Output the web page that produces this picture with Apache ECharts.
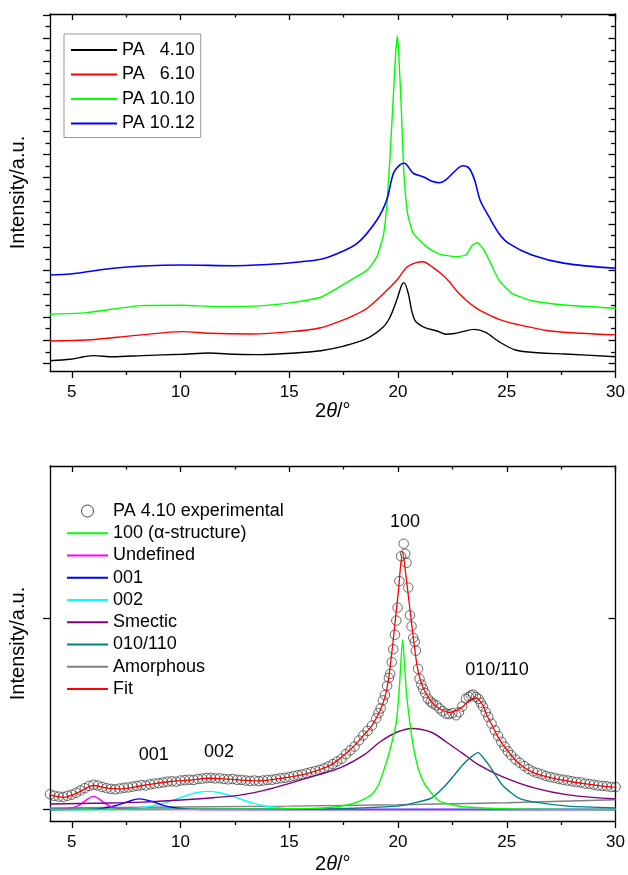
<!DOCTYPE html>
<html><head><meta charset="utf-8">
<script src="https://cdn.jsdelivr.net/npm/echarts@6.0.0/dist/echarts.min.js"></script>
<style>html,body{margin:0;padding:0;background:#fff}#c{width:628px;height:875px}</style>
</head><body><div id="c"></div>
<script>
// ---------- DATA (top panel) ----------
const topNames = ['PA   4.10', 'PA   6.10', 'PA 10.10', 'PA 10.12'];
const pa410X = [4.0, 4.94, 5.55, 6.0, 6.9, 8.27, 10.1, 11.3, 12.5, 13.7, 15.1, 16.45, 17.5, 18.58, 19.33, 19.64, 19.94, 20.17, 20.27, 20.47, 20.62, 20.77, 21.0, 21.3, 21.8, 22.2, 22.6, 22.97, 23.5, 24.03, 24.64, 25.4, 26.45, 27.67, 30];
const pa410Y = [0.12, 0.18, 0.29, 0.34, 0.29, 0.34, 0.40, 0.45, 0.40, 0.38, 0.44, 0.55, 0.75, 1.08, 1.58, 2.01, 2.73, 3.38, 3.48, 3.02, 2.30, 1.87, 1.66, 1.52, 1.40, 1.26, 1.29, 1.37, 1.47, 1.34, 0.94, 0.58, 0.46, 0.41, 0.29];
const pa610X = [4, 5.7, 7.97, 10.1, 11.3, 13.27, 15.1, 16.45, 17.06, 17.8, 18.58, 19.5, 20.0, 20.4, 20.8, 21.15, 21.6, 22.0, 22.36, 22.7, 23.12, 23.5, 23.88, 24.64, 25.4, 26.9, 28.4, 30];
const pa610Y = [0.97, 1.01, 1.21, 1.37, 1.30, 1.27, 1.37, 1.54, 1.73, 2.0, 2.38, 3.16, 3.65, 4.14, 4.33, 4.38, 4.14, 3.85, 3.52, 3.12, 2.73, 2.45, 2.23, 1.90, 1.70, 1.41, 1.30, 1.23];
const pa1010X = [4, 5.7, 8.12, 10.1, 11.6, 13.6, 15.1, 16.45, 17.06, 17.82, 18.58, 19.03, 19.33, 19.5, 19.65, 19.8, 19.9, 19.98, 20.05, 20.15, 20.25, 20.35, 20.45, 20.7, 21.3, 21.9, 22.67, 23.12, 23.42, 23.65, 23.95, 24.26, 24.64, 25.24, 26.15, 27.67, 30];
const pa1010Y = [2.12, 2.19, 2.49, 2.51, 2.45, 2.48, 2.62, 2.85, 3.16, 3.59, 4.02, 4.60, 5.53, 7.0, 9.2, 11.8, 13.5, 14.1, 13.0, 11.0, 8.5, 7.2, 6.4, 5.6, 5.03, 4.71, 4.60, 4.67, 5.10, 5.20, 4.89, 4.31, 3.59, 3.02, 2.70, 2.52, 2.38];
const pa1012X = [4, 4.94, 6.9, 8.27, 10.1, 12.5, 14.3, 15.55, 16.45, 17.06, 18.12, 19.03, 19.48, 19.79, 20.09, 20.29, 20.7, 21.15, 21.6, 21.9, 22.2, 22.67, 22.97, 23.27, 23.52, 23.77, 24.18, 24.64, 25.09, 26.15, 27.67, 30];
const pa1012Y = [3.81, 3.85, 4.10, 4.20, 4.24, 4.21, 4.28, 4.38, 4.49, 4.67, 5.17, 6.18, 7.04, 8.19, 8.55, 8.62, 8.19, 8.04, 7.83, 7.78, 7.90, 8.33, 8.51, 8.40, 7.90, 7.04, 6.32, 5.60, 5.17, 4.67, 4.31, 4.10];

// ---------- DATA (bottom panel) ----------
const botNames = ['PA 4.10 experimental', '100 (\u03b1-structure)', 'Undefined', '001', '002', 'Smectic', '010/110', 'Amorphous', 'Fit'];
const expX = [4.0,4.2,4.4,4.6,4.8,5.0,5.2,5.4,5.6,5.8,6.0,6.2,6.4,6.6,6.8,7.0,7.2,7.4,7.6,7.8,8.0,8.2,8.4,8.6,8.8,9.0,9.2,9.4,9.6,9.8,10.0,10.2,10.4,10.6,10.8,11.0,11.2,11.4,11.6,11.8,12.0,12.2,12.4,12.6,12.8,13.0,13.2,13.4,13.6,13.8,14.0,14.2,14.4,14.6,14.8,15.0,15.2,15.4,15.6,15.8,16.0,16.2,16.4,16.6,16.8,17.0,17.2,17.4,17.6,17.8,18.0,18.2,18.4,18.6,18.8,19.0,19.1,19.2,19.3,19.4,19.5,19.58,19.64,19.71,19.78,19.86,19.92,19.98,20.06,20.14,20.26,20.33,20.39,20.47,20.55,20.62,20.7,20.77,20.82,20.92,20.99,21.07,21.15,21.25,21.37,21.5,21.6,21.76,21.9,22.05,22.2,22.35,22.5,22.67,22.8,22.95,23.12,23.25,23.35,23.45,23.58,23.7,23.8,23.9,24.03,24.15,24.3,24.45,24.6,24.75,24.9,25.05,25.2,25.4,25.6,25.8,26.0,26.2,26.4,26.6,26.8,27.0,27.2,27.4,27.6,27.8,28.0,28.2,28.4,28.6,28.8,29.0,29.2,29.4,29.6,29.8,30.0];
const expY = [0.080,0.072,0.068,0.066,0.072,0.078,0.088,0.100,0.112,0.124,0.130,0.126,0.118,0.112,0.108,0.106,0.110,0.114,0.116,0.120,0.124,0.128,0.126,0.132,0.136,0.138,0.142,0.146,0.148,0.146,0.152,0.154,0.156,0.155,0.160,0.162,0.165,0.166,0.163,0.164,0.160,0.158,0.160,0.156,0.155,0.152,0.150,0.152,0.149,0.152,0.155,0.156,0.160,0.164,0.166,0.170,0.176,0.180,0.184,0.190,0.196,0.202,0.208,0.216,0.226,0.238,0.252,0.266,0.290,0.310,0.330,0.362,0.388,0.412,0.440,0.478,0.505,0.530,0.572,0.600,0.648,0.690,0.711,0.772,0.840,0.916,0.990,1.058,1.197,1.327,1.393,1.340,1.293,1.163,1.018,0.960,0.900,0.879,0.832,0.737,0.685,0.655,0.633,0.610,0.581,0.565,0.555,0.546,0.530,0.515,0.503,0.500,0.505,0.494,0.510,0.540,0.581,0.590,0.598,0.602,0.590,0.580,0.560,0.540,0.511,0.485,0.450,0.415,0.385,0.355,0.330,0.305,0.285,0.262,0.245,0.228,0.212,0.200,0.192,0.184,0.176,0.170,0.166,0.160,0.156,0.152,0.148,0.144,0.142,0.136,0.134,0.130,0.126,0.124,0.122,0.118,0.118];
const fitX = [4.0,4.64,5.24,6.0,6.6,7.2,8.27,9.49,10.55,11.3,12.2,13.58,14.64,15.85,16.76,17.2,17.67,18.0,18.42,18.8,19.18,19.4,19.56,19.79,20.02,20.21,20.39,20.62,20.88,21.05,21.23,21.5,21.76,22.05,22.36,22.7,22.97,23.27,23.58,23.88,24.1,24.33,24.55,24.79,25.1,25.39,25.8,26.3,26.9,27.51,28.1,28.73,29.3,30.0];
const fitY = [0.077,0.064,0.086,0.126,0.112,0.108,0.126,0.147,0.155,0.164,0.159,0.150,0.164,0.190,0.225,0.255,0.300,0.335,0.390,0.440,0.520,0.590,0.680,0.900,1.150,1.350,1.200,0.980,0.750,0.670,0.620,0.570,0.540,0.520,0.508,0.520,0.538,0.572,0.585,0.550,0.490,0.440,0.390,0.345,0.300,0.260,0.220,0.190,0.170,0.155,0.143,0.133,0.124,0.116];
const p100X = [4, 10, 14, 16, 17, 17.7, 18.27, 18.8, 19.1, 19.33, 19.6, 19.91, 20.05, 20.21, 20.38, 20.55, 20.72, 20.97, 21.3, 21.9, 22.5, 23, 24, 25, 26, 28, 30];
const p100Y = [0, 0.001, 0.003, 0.006, 0.012, 0.025, 0.045, 0.08, 0.13, 0.20, 0.30, 0.45, 0.62, 0.89, 0.62, 0.45, 0.32, 0.20, 0.12, 0.045, 0.025, 0.015, 0.008, 0.004, 0.002, 0.001, 0];
const undefX = [4, 4.8, 5.2, 5.5, 5.8, 6.0, 6.2, 6.5, 6.8, 7.2, 8, 30];
const undefY = [0, 0.004, 0.015, 0.035, 0.060, 0.069, 0.060, 0.035, 0.015, 0.004, 0, 0];
const p001X = [4, 6, 6.5, 7, 7.5, 8.1, 8.7, 9.2, 9.8, 10.4, 11, 30];
const p001Y = [0, 0.002, 0.008, 0.020, 0.038, 0.056, 0.042, 0.022, 0.008, 0.002, 0, 0];
const p002X = [4, 7.5, 8.5, 9.3, 10, 10.6, 11.2, 11.8, 12.5, 13.2, 14, 15, 16, 30];
const p002Y = [0, 0.003, 0.015, 0.035, 0.062, 0.085, 0.095, 0.088, 0.065, 0.038, 0.016, 0.005, 0.001, 0];
const smecX = [4, 6, 8.27, 10, 11.5, 12.8, 14, 15.1, 16.2, 17.36, 18.42, 19.18, 19.94, 20.65, 21.53, 22.2, 22.97, 23.73, 24.79, 26.3, 27.82, 30];
const smecY = [0.029, 0.033, 0.039, 0.050, 0.062, 0.077, 0.105, 0.140, 0.178, 0.220, 0.285, 0.355, 0.405, 0.425, 0.405, 0.355, 0.294, 0.233, 0.173, 0.112, 0.077, 0.056];
const p010X = [4, 16, 18, 19.94, 20.7, 21.53, 22.2, 22.97, 23.3, 23.68, 24.0, 24.18, 24.79, 25.55, 26.3, 27.82, 30];
const p010Y = [0, 0.003, 0.007, 0.018, 0.034, 0.060, 0.129, 0.233, 0.270, 0.298, 0.260, 0.233, 0.129, 0.060, 0.039, 0.018, 0.008];
const amorX = [4, 10, 15, 20, 25, 30];
const amorY = [0.008, 0.013, 0.018, 0.025, 0.036, 0.051];
const annText = ['100', '010/110', '001', '002'];
const annX = [20.32, 24.55, 8.77, 11.77];
const annY = [1.508, 0.732, 0.284, 0.299];

// ---------- tick labels ----------
const xMajor = [5, 10, 15, 20, 25, 30];
const xMinor = [7.5, 12.5, 17.5, 22.5, 27.5];
const yTopMajor = [0,1,2,3,4,5,6,7,8,9,10,11,12,13,14,15];
const yTopMinor = [0.5,1.5,2.5,3.5,4.5,5.5,6.5,7.5,8.5,9.5,10.5,11.5,12.5,13.5,14.5];
const yBotMajor = [0, 1];

// ---------- build ----------
const FF = 'Liberation Sans, Arial, Helvetica, sans-serif';
const AX = {color: '#000', width: 1.3};
const zip = (a, b) => a.map((v, i) => [v, b[i]]);

function xAxesFor(g, nameGap) {
  const base = {gridIndex: g, type: 'value', min: 4, max: 30, splitLine: {show: false}};
  return [
    Object.assign({}, base, {position: 'bottom', axisLine: {show: true, onZero: false, lineStyle: AX},
      axisTick: {show: true, customValues: xMajor, length: 7, inside: false, lineStyle: AX},
      axisLabel: {show: true, customValues: xMajor, fontSize: 17, fontFamily: FF, color: '#000', margin: 13},
      name: '{n|2}{i|\u03b8}{n|/\u00b0}', nameLocation: 'middle', nameGap: nameGap,
      nameTextStyle: {rich: {n: {fontSize: 20, fontFamily: FF, color: '#000'}, i: {fontSize: 20, fontFamily: FF, fontStyle: 'italic', color: '#000'}}}}),
    Object.assign({}, base, {position: 'bottom', axisLine: {show: false, onZero: false},
      axisTick: {show: true, customValues: xMinor, length: 4, inside: false, lineStyle: AX}, axisLabel: {show: false}}),
    Object.assign({}, base, {position: 'top', axisLine: {show: true, onZero: false, lineStyle: AX},
      axisTick: {show: true, customValues: xMajor, length: 6, inside: true, lineStyle: AX}, axisLabel: {show: false}}),
    Object.assign({}, base, {position: 'top', axisLine: {show: false, onZero: false},
      axisTick: {show: true, customValues: xMinor, length: 3.5, inside: true, lineStyle: AX}, axisLabel: {show: false}})
  ];
}
function yAxesFor(g, min, max, major, minor) {
  const base = {gridIndex: g, type: 'value', min: min, max: max, splitLine: {show: false}, axisLabel: {show: false}};
  const arr = [
    Object.assign({}, base, {position: 'left', axisLine: {show: true, onZero: false, lineStyle: AX},
      axisTick: {show: true, customValues: major, length: 7, inside: false, lineStyle: AX},
      name: 'Intensity/a.u.', nameLocation: 'middle', nameGap: 22,
      nameTextStyle: {fontSize: 20, fontFamily: FF, color: '#000'}}),
    Object.assign({}, base, {position: 'right', axisLine: {show: true, onZero: false, lineStyle: AX},
      axisTick: {show: true, customValues: major, length: 7, inside: true, lineStyle: AX}})
  ];
  if (minor) {
    arr.push(Object.assign({}, base, {position: 'left', axisLine: {show: false, onZero: false},
      axisTick: {show: true, customValues: minor, length: 4.5, inside: false, lineStyle: AX}}));
    arr.push(Object.assign({}, base, {position: 'right', axisLine: {show: false, onZero: false},
      axisTick: {show: true, customValues: minor, length: 4.5, inside: true, lineStyle: AX}}));
  }
  return arr;
}

const xAxis = xAxesFor(0, 30).concat(xAxesFor(1, 33));
const yAxis = yAxesFor(0, -0.323, 15.045, yTopMajor, yTopMinor).concat(yAxesFor(1, -0.06, 1.80, yBotMajor, null));

function lineS(name, xs, ys, color, w, xi, yi, smooth) {
  return {type: 'line', name: name, data: zip(xs, ys), xAxisIndex: xi, yAxisIndex: yi, symbol: 'none',
    smooth: smooth, lineStyle: {color: color, width: w}, itemStyle: {color: color}, silent: true, animation: false};
}

const series = [
  lineS(topNames[0], pa410X, pa410Y, '#000000', 1.4, 0, 0, 0.3),
  lineS(topNames[1], pa610X, pa610Y, '#ff0000', 1.4, 0, 0, 0.3),
  lineS(topNames[2], pa1010X, pa1010Y, '#00ff00', 1.4, 0, 0, 0.15),
  lineS(topNames[3], pa1012X, pa1012Y, '#0000ff', 1.6, 0, 0, 0.3),
  lineS(botNames[7], amorX, amorY, '#808080', 1.4, 4, 4, false),
  lineS(botNames[4], p002X, p002Y, '#00ffff', 1.4, 4, 4, 0.4),
  lineS(botNames[3], p001X, p001Y, '#0000ff', 1.4, 4, 4, 0.4),
  lineS(botNames[2], undefX, undefY, '#ff00ff', 1.4, 4, 4, 0.4),
  lineS(botNames[5], smecX, smecY, '#800080', 1.4, 4, 4, 0.4),
  lineS(botNames[6], p010X, p010Y, '#008080', 1.4, 4, 4, 0.2),
  lineS(botNames[1], p100X, p100Y, '#00ff00', 1.4, 4, 4, 0.2),
  {type: 'scatter', name: botNames[0], data: zip(expX, expY), xAxisIndex: 4, yAxisIndex: 4,
    symbol: 'circle', symbolSize: 9.5, symbolKeepAspect: true, silent: true, animation: false,
    itemStyle: {color: 'rgba(255,255,255,0)', borderColor: '#444', borderWidth: 1}},
  lineS(botNames[8], fitX, fitY, '#ff0000', 1.3, 4, 4, 0.3),
  {type: 'scatter', name: 'annotations', xAxisIndex: 4, yAxisIndex: 4, symbolSize: 0, silent: true, animation: false,
    itemStyle: {color: '#000', opacity: 1},
    data: annText.map((t, i) => ({name: t, value: [annX[i], annY[i]]})),
    label: {show: true, position: [0, 0], align: 'center', verticalAlign: 'middle', formatter: '{b}',
      fontSize: 18, fontFamily: FF, color: '#000000', opacity: 1, textBorderWidth: 0}}
];

const botLegendData = botNames.map((n, i) => i === 0
  ? {name: n, itemStyle: {opacity: 1, color: 'rgba(255,255,255,0)', borderColor: '#444', borderWidth: 1}}
  : {name: n});

const option = {
  backgroundColor: '#fff',
  animation: false,
  grid: [
    {left: 47, right: 11, top: 14, height: 357},
    {left: 47, right: 11, top: 466, height: 357}
  ],
  xAxis: xAxis,
  yAxis: yAxis,
  legend: [
    {data: topNames, orient: 'vertical', left: 64, top: 34, padding: [7, 6, 5, 6],
      itemWidth: 46, itemHeight: 12, itemGap: 6.5, itemTextGap: 6, borderColor: '#999', borderWidth: 1, selectedMode: false,
      itemStyle: {opacity: 0},
      textStyle: {fontSize: 18, fontFamily: FF, color: '#000', lineHeight: 18}},
    {data: botLegendData, orient: 'vertical', left: 66, top: 502, padding: 0,
      itemWidth: 41, itemHeight: 12, itemGap: 4.25, itemTextGap: 8, selectedMode: false,
      itemStyle: {opacity: 0},
      textStyle: {fontSize: 18, fontFamily: FF, color: '#000', lineHeight: 18}}
  ],
  series: series
};
const chart = echarts.init(document.getElementById('c'), null, {renderer: 'canvas'});
chart.setOption(option);
</script></body></html>
